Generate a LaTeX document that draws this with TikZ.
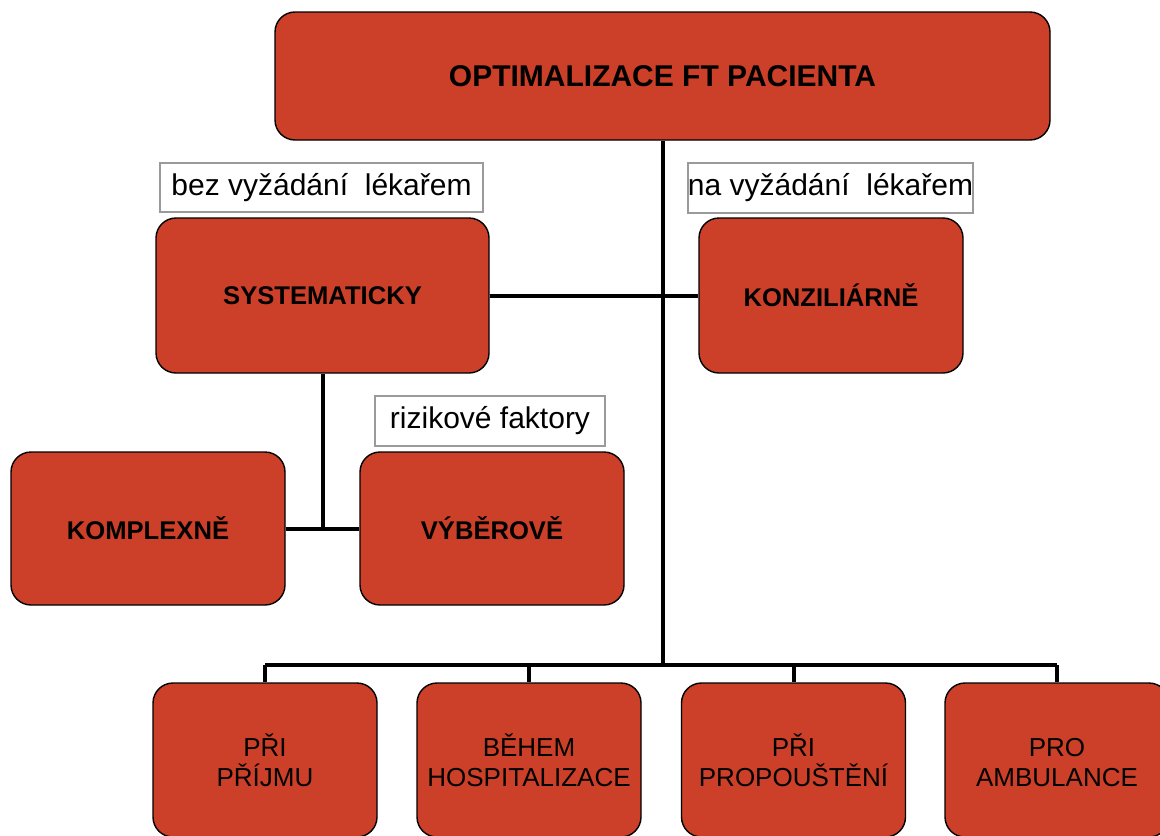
\documentclass[tikz,border=0pt]{standalone}
\usepackage{fontspec}
\setmainfont{Liberation Sans}
\usepackage{xcolor}
\definecolor{cRed}{HTML}{CC3F28}
\definecolor{cGray}{HTML}{9A9A9A}
\tikzset{
	redBox/.style={draw=black, line width=0.7pt, fill=cRed, rounded corners=10pt, inner sep=0pt, align=center},
	noteBox/.style={draw=cGray, line width=0.6pt, fill=white, inner sep=0pt, font=\fontsize{15}{18}\selectfont},
	link/.style={line width=2pt, black}
}
\begin{document}
\begin{tikzpicture}[x=0.5pt, y=-0.5pt]
		\useasboundingbox (0,0) rectangle (1160,835);
		\clip (0,0) rectangle (1160,835);
		
		%top
		\node [redBox, minimum width=387.5pt, minimum height=64pt, font=\bfseries\fontsize{15}{18}\selectfont] (top) at (662.5,76) {OPTIMALIZACE FT PACIENTA};
		
		%middle row
		\node [noteBox, minimum width=161.5pt, minimum height=24.5pt] (lblBez) at (321.5,187.5) {bez vyžádání~ lékařem};
		\node [redBox, minimum width=166.5pt, minimum height=77.5pt, font=\bfseries\fontsize{12.8}{15}\selectfont] (sys) at (322.5,295.5) {SYSTEMATICKY};
		\node [noteBox, minimum width=142.5pt, minimum height=25pt] (lblNa) at (830.5,188) {na vyžádání~ lékařem};
		\node [redBox, minimum width=132pt, minimum height=77.5pt, font=\bfseries\fontsize{12.8}{15}\selectfont] (konz) at (831,295.5) {KONZILIÁRNĚ};
		
		%left branch
		\node [noteBox, minimum width=115pt, minimum height=25pt] (lblRiz) at (490,421) {rizikové faktory};
		\node [redBox, minimum width=137pt, minimum height=76.5pt, font=\bfseries\fontsize{12.8}{15}\selectfont] (kompl) at (148,528.5) {KOMPLEXNĚ};
		\node [redBox, minimum width=132pt, minimum height=76.5pt, font=\bfseries\fontsize{12.8}{15}\selectfont] (vyb) at (492,528.5) {VÝBĚROVĚ};
		
		%bottom row
		\foreach \n/\x/\t in {prijem/265/{PŘI\\PŘÍJMU}, hosp/529/{BĚHEM\\HOSPITALIZACE}, propust/793.5/{PŘI\\PROPOUŠTĚNÍ}, amb/1057/{PRO\vphantom{Ř}\\AMBULANCE}}
		{
			\node [redBox, minimum width=112pt, minimum height=77pt, font=\fontsize{13}{15}\selectfont] (\n) at (\x,760) {\t};
		}
		
		%connectors
		\coordinate (bus) at (top.south |- 0,665);
		\draw [link] (top.south) -- (bus);
		\draw [link] (prijem.north |- bus) -- (amb.north |- bus);
		\foreach \n in {prijem,hosp,propust,amb}
		{
			\draw [link] (\n.north |- bus) -- (\n.north);
		}
		\draw [link] (sys.east) -- (konz.west);
		\coordinate (subBus) at (sys.south |- kompl.east);
		\draw [link] (sys.south) -- (subBus);
		\draw [link] (kompl.east) -- (vyb.west);
		
		\end{tikzpicture}
\end{document}
